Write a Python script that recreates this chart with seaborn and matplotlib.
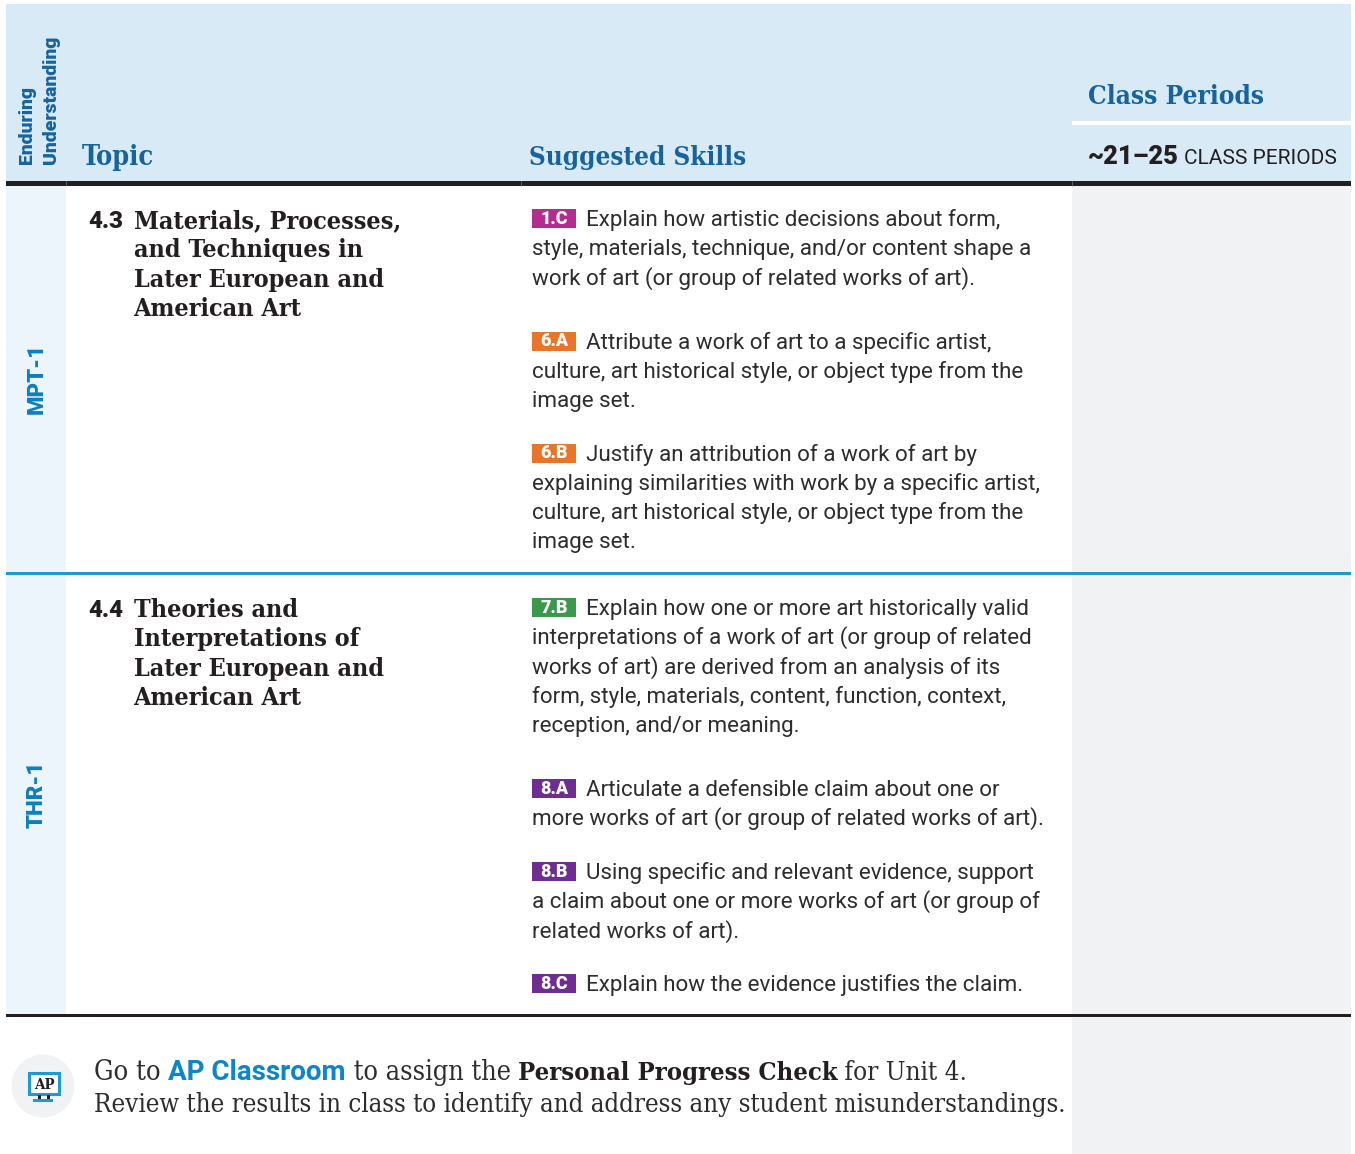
# Unit 4 pacing table, drawn in pixel coordinates on one axes
import matplotlib
matplotlib.use('Agg')
import matplotlib.pyplot as plt
from matplotlib.patches import Rectangle, Circle
import seaborn as sns

# --------------
# Data
# --------------
header_topic = 'Topic'
header_skills = 'Suggested Skills'
header_periods = 'Class Periods'
period_count = '~21\u201325'
period_unit = 'CLASS PERIODS'
enduring_lines = ['Enduring', 'Understanding']
section_labels = ['MPT-1', 'THR-1']
topic_numbers = ['4.3', '4.4']
topic_titles = [['Materials, Processes,', 'and Techniques in', 'Later European and', 'American Art'],
                ['Theories and', 'Interpretations of', 'Later European and', 'American Art']]
skill_codes = ['1.C', '6.A', '6.B', '7.B', '8.A', '8.B', '8.C']
skill_texts = [
    ['Explain how artistic decisions about form,',
     'style, materials, technique, and/or content shape a',
     'work of art (or group of related works of art).'],
    ['Attribute a work of art to a specific artist,',
     'culture, art historical style, or object type from the',
     'image set.'],
    ['Justify an attribution of a work of art by',
     'explaining similarities with work by a specific artist,',
     'culture, art historical style, or object type from the',
     'image set.'],
    ['Explain how one or more art historically valid',
     'interpretations of a work of art (or group of related',
     'works of art) are derived from an analysis of its',
     'form, style, materials, content, function, context,',
     'reception, and/or meaning.'],
    ['Articulate a defensible claim about one or',
     'more works of art (or group of related works of art).'],
    ['Using specific and relevant evidence, support',
     'a claim about one or more works of art (or group of',
     'related works of art).'],
    ['Explain how the evidence justifies the claim.'],
]
skill_colors = ['#b32c8f', '#e8752a', '#e8752a', '#3a9a4b', '#6f2c91', '#6f2c91', '#6f2c91']
note_runs = [[('Go to ', 'plain'), ('AP Classroom', 'link'), (' to assign the ', 'plain'),
              ('Personal Progress Check', 'strong'), (' for Unit 4.', 'plain')],
             [('Review the results in class to identify and address any student misunderstandings.', 'plain')]]

# --------------
# Layout (pixels of the picture)
# --------------
SLAB = 'DejaVu Serif'
SANS = 'Roboto'
INK = '#231f20'
BODY = '#2e2c2d'
HEAD_BLUE = '#16639e'
LINE_BLUE = '#1b9ad6'
skill_first_base = [226, 348.5, 460.5, 615, 796, 879, 991]
topic_first_base = [228, 617]
section_mid = [378, 794]
note_base = [1080, 1112]
note_widths = [[74, 178, 172, 319, 130], [973]]

sns.set_theme(style='white')
plt.rcParams['font.family'] = [SANS, 'DejaVu Sans']

fig = plt.figure(figsize=(13.55, 11.54), dpi=100)
ax = fig.add_axes([0, 0, 1, 1])
ax.set_xlim(0, 1355)
ax.set_ylim(1154, 0)
ax.axis('off')
sns.despine(ax=ax, left=True, bottom=True)


def px(size):
    return size * 0.72


def box(x0, y0, x1, y1, color, z=1):
    ax.add_patch(Rectangle((x0, y0), x1 - x0, y1 - y0, facecolor=color, edgecolor='none', zorder=z))


def fit_text(x, y, s, width=None, **kw):
    # put text down and, if a width is given, scale the font to that width
    t = ax.text(x, y, s, va='baseline', ha='left', **kw)
    if width is not None:
        w = t.get_window_extent(fig.canvas.get_renderer()).width
        t.set_fontsize(t.get_fontsize() * width / w)
    return t


# --------------
# Backgrounds
# --------------
box(6, 4, 1351, 183, '#d8eaf6')
box(6, 186, 66, 1014, '#edf5fc')
box(1072, 186, 1351, 1154, '#f0f2f4')
box(1072, 121, 1351, 125, 'white', 2)
box(6, 181, 1351, 186, INK, 3)
box(6, 572, 1351, 575, LINE_BLUE, 3)
box(6, 1014, 1351, 1016.5, INK, 3)
for x_pos in [66, 521, 1071.5]:
    ax.plot([x_pos, x_pos], [181, 186], color='#8c8c8c', linewidth=0.4, zorder=4)

# --------------
# Header
# --------------
head_kw = dict(fontweight='bold', color=HEAD_BLUE, fontfamily=SLAB, fontstretch='condensed')
for x_pos, line in zip([32, 56], enduring_lines):
    ax.text(x_pos, 164, line, rotation=90, rotation_mode='anchor', ha='left', va='baseline',
            fontsize=px(19.4), fontweight='black', color=HEAD_BLUE, fontfamily='Roboto')
fit_text(82, 165, header_topic, width=72, fontsize=px(28), **head_kw)
fit_text(529, 165, header_skills, width=218, fontsize=px(28), **head_kw)
fit_text(1088, 104, header_periods, width=176, fontsize=px(28), **head_kw)
fit_text(1088, 164, period_count, width=91, fontsize=px(27), fontweight='black', color=INK)
fit_text(1184, 164, period_unit, width=153, fontsize=px(21), color=INK)

# --------------
# Sections
# --------------
for label, mid in zip(section_labels, section_mid):
    ax.text(37, mid, label, rotation=90, ha='center', va='center',
            fontsize=px(22.3), fontweight='black', color='#0b7fc4')

for number, title, base in zip(topic_numbers, topic_titles, topic_first_base):
    fit_text(88, base, number, width=35, fontsize=px(25), fontweight='black', color=INK)
    for i, line in enumerate(title):
        ax.text(133.5, base + i * 29.3, line, va='baseline', fontsize=px(25),
                fontweight='bold', color=INK, fontfamily=SLAB, fontstretch='condensed')

for code, lines, color, base in zip(skill_codes, skill_texts, skill_colors, skill_first_base):
    box(532, base - 17, 576, base + 2, color)
    ax.text(554, base - 2, code, ha='center', va='baseline', fontsize=px(18), fontweight='black', color='white', zorder=4)
    for i, line in enumerate(lines):
        ax.text(586.5 if i == 0 else 532, base + i * 29.3, line, va='baseline', fontsize=px(22.4), color=BODY)

# --------------
# Note at the bottom
# --------------
ax.add_patch(Circle((43, 1086), 31.5, facecolor='#f0f2f4', edgecolor='none'))
ax.add_patch(Rectangle((29, 1073), 30, 21, facecolor='white', edgecolor=LINE_BLUE, linewidth=2.2, zorder=2))
box(38, 1095, 41, 1099, INK, 2)
box(47, 1095, 50, 1099, INK, 2)
box(33, 1099, 53, 1102, LINE_BLUE, 2)
ax.text(44, 1089, 'AP', ha='center', va='baseline', fontsize=px(15), fontweight='bold',
        color=INK, fontfamily=SLAB, fontstretch='condensed', zorder=3)

run_style = {'plain': dict(fontfamily=SLAB, color=BODY, fontstretch='condensed'),
             'link': dict(fontfamily=SANS, color='#0b85cc', fontweight='bold'),
             'strong': dict(fontfamily=SLAB, color=INK, fontweight='bold', fontstretch='condensed')}
for runs, widths, base in zip(note_runs, note_widths, note_base):
    x_pos = 94
    for (text, kind), width in zip(runs, widths):
        fit_text(x_pos, base, text.replace(' ', '\u00a0'), width=width, fontsize=px(26), **run_style[kind])
        x_pos += width

fig.savefig('out.png', dpi=100)
plt.close(fig)
